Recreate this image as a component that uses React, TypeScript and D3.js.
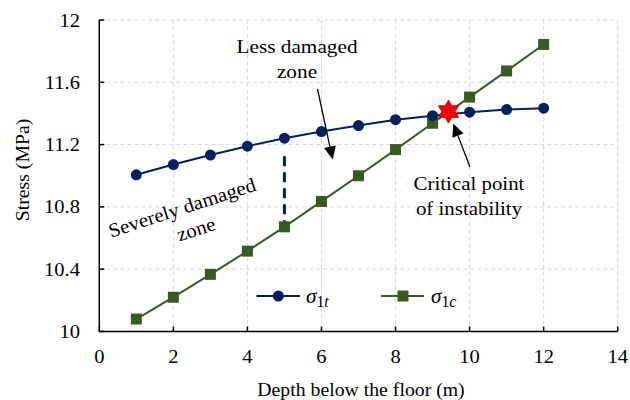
import React from "react";
import * as d3 from "d3";

// Depth below the floor (m)
const depths = [1, 2, 3, 4, 5, 6, 7, 8, 9, 10, 11, 12];
// σ1t series (MPa)
const sigma1t = [11.006, 11.072, 11.133, 11.19, 11.241, 11.284, 11.322, 11.36, 11.386, 11.408, 11.425, 11.434];
// σ1c series (MPa)
const sigma1c = [10.08, 10.22, 10.367, 10.516, 10.672, 10.835, 11.0, 11.168, 11.337, 11.505, 11.673, 11.843];

const xTicks = [0, 2, 4, 6, 8, 10, 12, 14];
const yTicks = [10, 10.4, 10.8, 11.2, 11.6, 12];
const yTickLabels = ["10", "10.4", "10.8", "11.2", "11.6", "12"];

// Critical point of instability
const criticalPoint = { x: 9.43, y: 11.412 };
// Boundary between severely / less damaged zones
const boundaryDepth = 5;
const boundaryRange = [11.125, 10.65];

const W = 630;
const H = 400;
const NAVY = "#002060";
const GREEN = "#3a5a23";
const BASE_FS = 19;

const x = d3.scaleLinear().domain([0, 14]).range([99.3, 617.7]);
const y = d3.scaleLinear().domain([10, 12]).range([331.5, 20]);

function starPath(cx: number, cy: number, rOuter: number, rInner: number, n: number) {
  const pts: [number, number][] = [];
  for (let i = 0; i < n * 2; i++) {
    const r = i % 2 === 0 ? rOuter : rInner;
    const a = -Math.PI / 2 + (i * Math.PI) / n;
    pts.push([cx + r * Math.cos(a), cy + r * Math.sin(a)]);
  }
  return d3.line()(pts)! + "Z";
}

function Arrow({ x1, y1, x2, y2 }: { x1: number; y1: number; x2: number; y2: number }) {
  const ang = Math.atan2(y2 - y1, x2 - x1);
  const len = 13;
  const half = 6;
  const bx = x2 - len * Math.cos(ang);
  const by = y2 - len * Math.sin(ang);
  const px = -Math.sin(ang);
  const py = Math.cos(ang);
  const head = `M${x2},${y2}L${bx + half * px},${by + half * py}L${bx - half * px},${by - half * py}Z`;
  return (
    <g>
      <line x1={x1} y1={y1} x2={bx} y2={by} stroke="#000" strokeWidth={1.3} />
      <path d={head} fill="#000" />
    </g>
  );
}

// Serif text set at a fixed base size and scaled into place
function T({
  x: tx,
  y: ty,
  sx = 1.08,
  sy = 1.03,
  rotate = 0,
  anchor = "middle",
  children,
}: {
  x: number;
  y: number;
  sx?: number;
  sy?: number;
  rotate?: number;
  anchor?: "start" | "middle" | "end";
  children: React.ReactNode;
}) {
  return (
    <g transform={`translate(${tx},${ty}) rotate(${rotate}) scale(${sx},${sy})`}>
      <text
        x={0}
        y={0}
        textAnchor={anchor}
        fontSize={BASE_FS}
        fill="#000"
        style={{ fontFamily: '"Liberation Serif", serif' }}
      >
        {children}
      </text>
    </g>
  );
}

export default function App() {
  const pts = depths.map((d, i) => ({ d, t: sigma1t[i], c: sigma1c[i] }));
  const lineT = d3.line<{ d: number; t: number }>().x((p) => x(p.d)).y((p) => y(p.t));
  const lineC = d3.line<{ d: number; c: number }>().x((p) => x(p.d)).y((p) => y(p.c));
  const [x0, x1] = x.range();
  const [y0, y1] = y.range();

  return (
    <svg width={W} height={H} style={{ position: "absolute", left: 0, top: 0, background: "#fff" }}>
      {/* grid */}
      <g stroke="#d6d6d6" strokeWidth={1} strokeDasharray="4,3">
        {xTicks.slice(1).map((t) => (
          <line key={"gx" + t} x1={x(t)} x2={x(t)} y1={y0} y2={y1} />
        ))}
        {yTicks.slice(1).map((t) => (
          <line key={"gy" + t} x1={x0} x2={x1} y1={y(t)} y2={y(t)} />
        ))}
      </g>

      {/* axes */}
      <g stroke="#000" strokeWidth={1.5}>
        <line x1={x0} x2={x0} y1={y0} y2={y1} />
        <line x1={x0} x2={x1} y1={y0} y2={y0} />
        {xTicks.map((t) => (
          <line key={"tx" + t} x1={x(t)} x2={x(t)} y1={y0} y2={y0 - 5} />
        ))}
        {yTicks.map((t) => (
          <line key={"ty" + t} x1={x0} x2={x0 + 5} y1={y(t)} y2={y(t)} />
        ))}
      </g>

      {/* tick labels */}
      {xTicks.map((t) => (
        <T key={"lx" + t} x={x(t)} y={363}>
          {t}
        </T>
      ))}
      {yTicks.map((t, i) => (
        <T key={"ly" + t} x={80} y={y(t) + 6.5} anchor="end">
          {yTickLabels[i]}
        </T>
      ))}

      {/* axis titles */}
      <T x={361} y={396} sx={1.04} sy={1.02}>
        Depth below the floor (m)
      </T>
      <T x={29} y={170} rotate={-90} sx={1.04} sy={1.04}>
        Stress (MPa)
      </T>

      {/* zone boundary */}
      <line
        x1={x(boundaryDepth)}
        x2={x(boundaryDepth)}
        y1={y(boundaryRange[0])}
        y2={y(boundaryRange[1])}
        stroke={NAVY}
        strokeWidth={3}
        strokeDasharray="10,6"
      />

      {/* series */}
      <path d={lineC(pts)!} fill="none" stroke={GREEN} strokeWidth={2} />
      {pts.map((p) => (
        <rect key={"c" + p.d} x={x(p.d) - 5.5} y={y(p.c) - 5.5} width={11} height={11} fill={GREEN} />
      ))}
      <path d={lineT(pts)!} fill="none" stroke={NAVY} strokeWidth={2} />
      {pts.map((p) => (
        <circle key={"t" + p.d} cx={x(p.d)} cy={y(p.t)} r={5.5} fill={NAVY} />
      ))}

      {/* critical point */}
      <path
        d={starPath(x(criticalPoint.x), y(criticalPoint.y), 11.5, 6.6, 6)}
        fill="#ff0000"
        stroke="#c00000"
        strokeWidth={1}
      />

      {/* annotations */}
      <T x={297} y={53} sx={1.12}>Less damaged</T>
      <T x={297} y={78} sx={1.12}>zone</T>
      <T x={469} y={190} sx={1.1}>Critical point</T>
      <T x={469} y={215} sx={1.1}>of instability</T>
      <T x={184} y={214} rotate={-18} sx={1.1}>Severely damaged</T>
      <T x={184 + 14} y={214 + 21.5} rotate={-18} sx={1.1}>zone</T>
      <Arrow x1={317.5} y1={89} x2={332.7} y2={159.5} />
      <Arrow x1={470} y1={167} x2={453.3} y2={123.5} />

      {/* legend */}
      <line x1={256.5} x2={300} y1={296} y2={296} stroke={NAVY} strokeWidth={2} />
      <circle cx={278.3} cy={296} r={5.5} fill={NAVY} />
      <T x={306} y={303} anchor="start" sx={1.12} sy={1.12}>
        <tspan fontStyle="italic">σ</tspan>
        <tspan fontSize={14} dy={4}>1</tspan>
        <tspan fontSize={14} fontStyle="italic">t</tspan>
      </T>
      <line x1={381} x2={424} y1={296} y2={296} stroke={GREEN} strokeWidth={2} />
      <rect x={403 - 5.5} y={296 - 5.5} width={11} height={11} fill={GREEN} />
      <T x={431} y={303} anchor="start" sx={1.12} sy={1.12}>
        <tspan fontStyle="italic">σ</tspan>
        <tspan fontSize={14} dy={4}>1</tspan>
        <tspan fontSize={14} fontStyle="italic">c</tspan>
      </T>
    </svg>
  );
}
